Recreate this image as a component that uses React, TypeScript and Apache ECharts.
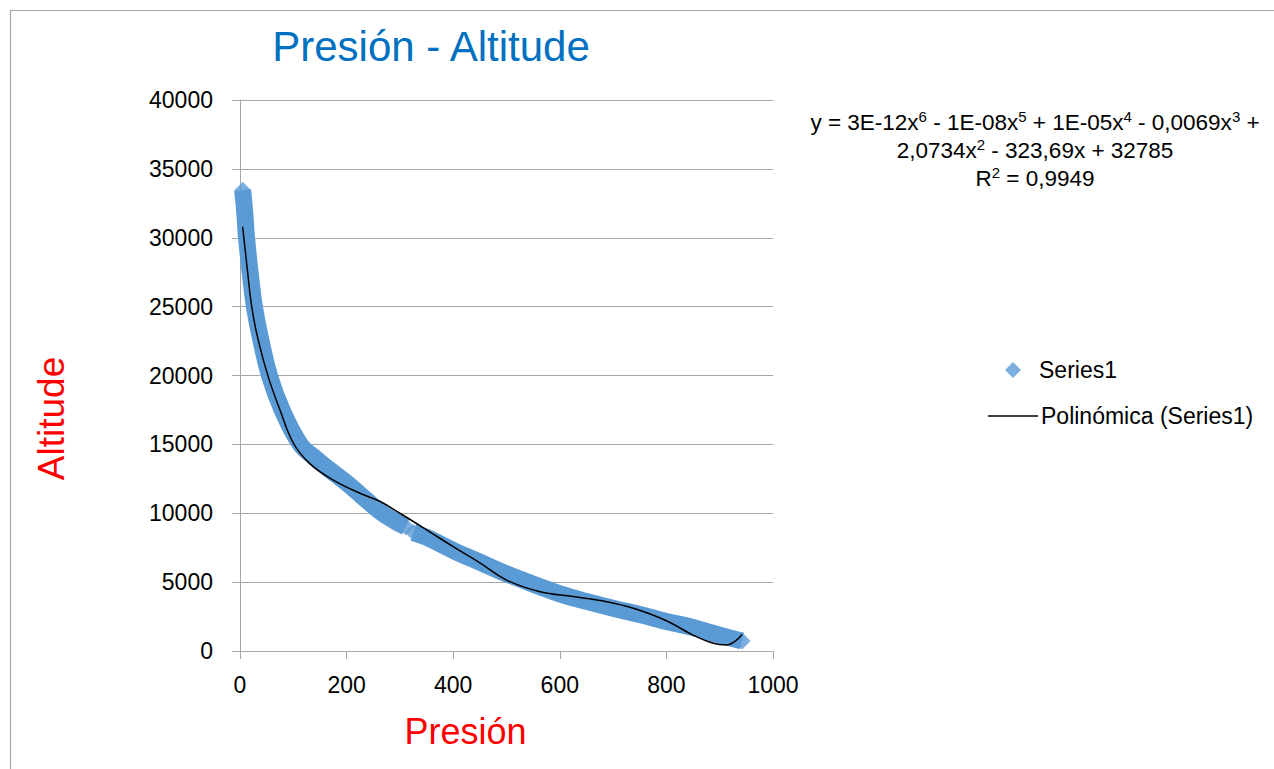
import React, { useEffect, useRef } from "react";
import * as echarts from "echarts";

const FONT = "'Liberation Sans', Arial, sans-serif";

// Axis ticks
const xTicks = [0, 200, 400, 600, 800, 1000];
const yTicks = [0, 5000, 10000, 15000, 20000, 25000, 30000, 35000, 40000];

// Series1 (measured band), split where the data have a gap
const upperPressure = [5, 9, 12, 19, 27, 39, 56, 79, 113, 138, 165, 200, 230, 262, 290, 311];
const upperAltitude = [33450, 31800, 30100, 27500, 25000, 22600, 19900, 17500, 15000, 14100, 13250, 12200, 11200, 10150, 9450, 9020];
const lowerPressure = [325, 350, 400, 450, 500, 563, 600, 650, 700, 750, 800, 850, 900, 942];
const lowerAltitude = [8600, 8250, 7300, 6450, 5600, 4670, 4150, 3600, 3100, 2650, 2150, 1700, 1150, 720];

// Polynomial trendline
const trendPressure = [5, 12.5, 22, 34, 53, 75, 100, 131, 175, 225, 263, 300, 350, 400, 450, 500, 563, 625, 688, 738, 800, 850, 888, 912, 928, 942];
const trendAltitude = [30800, 28150, 25000, 22600, 19900, 17500, 15100, 13600, 12400, 11450, 10850, 10000, 8800, 7570, 6400, 5150, 4300, 3950, 3580, 3100, 2200, 1150, 560, 435, 680, 1200];

const equationLines = [
  "y = 3E-12x{s|6} - 1E-08x{s|5} + 1E-05x{s|4} - 0,0069x{s|3} +",
  "2,0734x{s|2} - 323,69x + 32785",
  "R{s|2} = 0,9949",
];

const zip = (a: number[], b: number[]) => a.map((v, i) => [v, b[i]]);

export default function App() {
  const ref = useRef<HTMLDivElement>(null);
  useEffect(() => {
    if (!ref.current) return;
    const chart = echarts.init(ref.current, undefined, { renderer: "svg" });
    const blue = "#5b9bd5";
    const axisGray = "#a6a6a6";
    const upper = zip(upperPressure, upperAltitude);
    const lower = zip(lowerPressure, lowerAltitude);
    const trend = zip(trendPressure, trendAltitude);
    const option: any = {
      animation: false,
      backgroundColor: "#ffffff",
      textStyle: { fontFamily: FONT },
      grid: { left: 240, top: 100, right: 501, bottom: 118 },
      xAxis: {
        type: "value",
        min: xTicks[0],
        max: xTicks[xTicks.length - 1],
        interval: xTicks[1] - xTicks[0],
        name: "Presión",
        nameLocation: "middle",
        nameGap: 62,
        nameTextStyle: { color: "#ff0000", fontSize: 36, fontFamily: FONT, padding: [0, 82, 0, 0] },
        axisLine: { show: true, lineStyle: { color: axisGray, width: 1 } },
        axisTick: { show: true, length: 8, lineStyle: { color: axisGray } },
        axisLabel: { color: "#000", fontSize: 23, margin: 22, fontFamily: FONT, formatter: (v: number) => String(v) },
        splitLine: { show: false },
      },
      yAxis: {
        type: "value",
        min: yTicks[0],
        max: yTicks[yTicks.length - 1],
        interval: yTicks[1] - yTicks[0],
        name: "Altitude",
        nameLocation: "middle",
        nameGap: 170,
        nameTextStyle: { color: "#ff0000", fontSize: 37, fontFamily: FONT, padding: [0, 86, 0, 0] },
        axisLine: { show: true, lineStyle: { color: axisGray, width: 1 } },
        axisTick: { show: true, length: 8, lineStyle: { color: axisGray } },
        axisLabel: { color: "#000", fontSize: 23, margin: 27, fontFamily: FONT, formatter: (v: number) => String(v) },
        splitLine: { show: true, lineStyle: { color: axisGray, width: 1 } },
      },
      legend: [
        {
          orient: "vertical",
          left: 1000,
          top: 352,
          itemWidth: 16,
          itemHeight: 16,
          selectedMode: false,
          symbolKeepAspect: true,
          textStyle: { color: "#000", fontSize: 23, lineHeight: 26, fontFamily: FONT, padding: [0, 0, 0, 13] },
          data: [{ name: "Series1", icon: "diamond" }],
        },
        {
          orient: "vertical",
          left: 983,
          top: 398,
          itemWidth: 50,
          itemHeight: 1.5,
          selectedMode: false,
          textStyle: { color: "#000", fontSize: 23, lineHeight: 26, fontFamily: FONT, padding: [0, 0, 0, -2] },
          data: [{ name: "Polinómica (Series1)", icon: "rect" }],
        },
      ],
      series: [
        {
          name: "Series1",
          type: "scatter",
          symbol: "diamond",
          symbolSize: 17,
          itemStyle: { color: blue },
          data: [...upper, ...lower],
          z: 3,
        },
        {
          name: "Series1",
          type: "line",
          symbol: "none",
          smooth: 0.45,
          itemStyle: { color: blue },
          lineStyle: { color: blue, width: 17 },
          data: upper,
          z: 2,
        },
        {
          name: "Series1",
          type: "line",
          symbol: "none",
          smooth: 0.4,
          itemStyle: { color: blue },
          lineStyle: { color: blue, width: 17 },
          data: lower,
          z: 2,
        },
        {
          name: "Polinómica (Series1)",
          type: "line",
          symbol: "none",
          smooth: 0.4,
          itemStyle: { color: "#000" },
          lineStyle: { color: "#000", width: 1.5 },
          data: trend,
          z: 4,
        },
      ],
      graphic: [
        {
          type: "rect",
          silent: true,
          z: -10,
          shape: { x: 10.5, y: 10.5, width: 1400, height: 900 },
          style: { fill: "none", stroke: "#a6a6a6", lineWidth: 1.2 },
        },
        {
          type: "text",
          x: 431,
          y: 46,
          style: {
            text: "Presión - Altitude",
            fill: "#0070c0",
            font: `42px ${FONT}`,
            textAlign: "center",
            textVerticalAlign: "middle",
          },
        },
        ...equationLines.map((t, i) => ({
          type: "text",
          x: 1035,
          y: 122 + i * 28,
          style: {
            text: t,
            fill: "#000",
            fontSize: 22.5,
            fontFamily: FONT,
            lineHeight: 26,
            textAlign: "center",
            textVerticalAlign: "middle",
            rich: {
              s: { fontSize: 15, lineHeight: 26, verticalAlign: "top", fill: "#000", fontFamily: FONT, padding: [0, 0, 8, 0] },
            },
          },
        })),
      ],
    };
    chart.setOption(option);
    return () => chart.dispose();
  }, []);
  return (
    <div
      ref={ref}
      style={{ position: "fixed", left: 0, top: 0, width: 1274, height: 769 }}
    />
  );
}
